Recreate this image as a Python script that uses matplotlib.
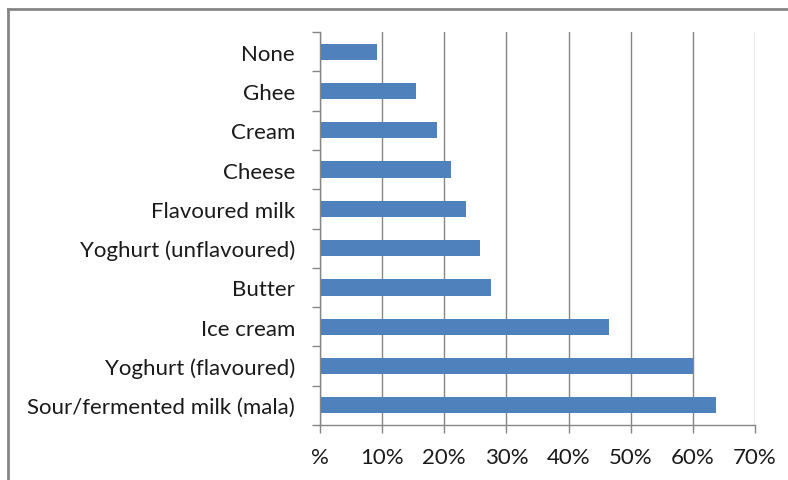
import numpy as np
import matplotlib
matplotlib.use("Agg")
import matplotlib.pyplot as plt
from matplotlib.lines import Line2D

categories = ["Sour/fermented milk (mala)", "Yoghurt (flavoured)", "Ice cream", "Butter",
              "Yoghurt (unflavoured)", "Flavoured milk", "Cheese", "Cream", "Ghee", "None"]
values = [63.7, 60.1, 46.5, 27.5, 25.7, 23.5, 21.1, 18.8, 15.5, 9.2]
xticks = [0, 10, 20, 30, 40, 50, 60, 70]
xlabels = ["%", "10%", "20%", "30%", "40%", "50%", "60%", "70%"]

plt.rcParams['font.family'] = ['Lato', 'DejaVu Sans']
grey = '#868686'
fs = 16

fig = plt.figure(figsize=(7.88, 4.81), dpi=100)
ax = fig.add_axes([320/788, 1-426/481, 435/788, 393/481])

y = np.arange(len(categories))
ax.barh(y, values, height=0.41, color='#4F81BD', zorder=3)

ax.set_xlim(0, 70)
ax.set_ylim(-0.5, len(categories)-0.5)
ax.set_xticks(xticks)
ax.set_xticklabels(xlabels, fontsize=fs, color='#1a1a1a')
ax.tick_params(axis='x', length=6, width=1, color=grey, pad=10)

ax.set_yticks(np.arange(len(categories)+1) - 0.5)
ax.set_yticklabels([])
ax.tick_params(axis='y', which='major', length=6, width=1, color=grey)
ax.set_yticks(y, minor=True)
ax.set_yticklabels(categories, minor=True, fontsize=fs, color='#1a1a1a')
ax.tick_params(axis='y', which='minor', length=0, pad=18)

ax.grid(True, axis='x', color=grey, linewidth=1, zorder=0)
for s in ['top', 'right']:
    ax.spines[s].set_visible(False)
for s in ['left', 'bottom']:
    ax.spines[s].set_color(grey)
    ax.spines[s].set_linewidth(1)
    ax.spines[s].set_zorder(4)

# outer frame (only top and left visible in the crop)
fig.add_artist(Line2D([8/788, 8/788], [0, 1-10/481], transform=fig.transFigure, color=grey, linewidth=2))
fig.add_artist(Line2D([8/788, 1], [1-10/481, 1-10/481], transform=fig.transFigure, color=grey, linewidth=2))

plt.savefig('out.png', dpi=100)
